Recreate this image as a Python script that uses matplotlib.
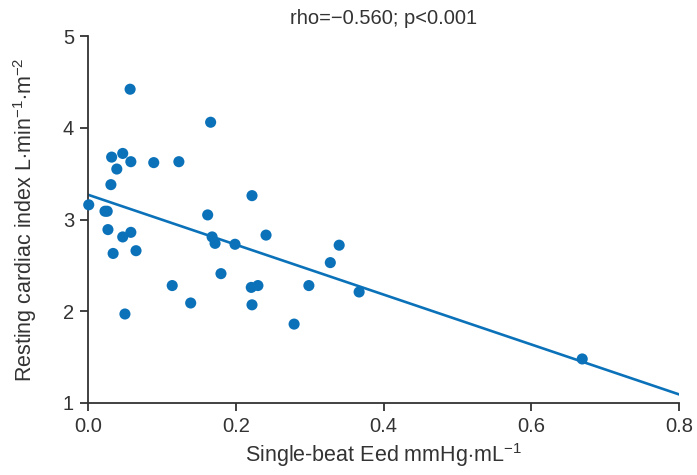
import numpy as np
import matplotlib
matplotlib.use("Agg")
import matplotlib.pyplot as plt

plt.rcParams['font.family'] = ['Liberation Sans', 'DejaVu Sans']
plt.rcParams['mathtext.fontset'] = 'custom'
plt.rcParams['mathtext.rm'] = 'Liberation Sans'
plt.rcParams['mathtext.it'] = 'Liberation Sans:italic'

# single-beat Eed (mmHg/mL) and resting cardiac index (L/min/m2)
eed = [0.001, 0.023, 0.026, 0.027, 0.034, 0.031, 0.032, 0.039, 0.047, 0.058,
       0.057, 0.047, 0.058, 0.050, 0.065, 0.089, 0.123, 0.114, 0.139, 0.166,
       0.162, 0.168, 0.172, 0.180, 0.199, 0.222, 0.221, 0.230, 0.222, 0.241,
       0.279, 0.299, 0.328, 0.340, 0.367, 0.669]
ci = [3.16, 3.09, 3.09, 2.89, 2.63, 3.38, 3.68, 3.55, 3.72, 3.63,
      4.42, 2.81, 2.86, 1.97, 2.66, 3.62, 3.63, 2.28, 2.09, 4.06,
      3.05, 2.81, 2.74, 2.41, 2.73, 3.26, 2.26, 2.28, 2.07, 2.83,
      1.86, 2.28, 2.53, 2.72, 2.21, 1.48]

# fitted line
intercept = 3.27
slope = -2.72

xticks = [0.0, 0.2, 0.4, 0.6, 0.8]
yticks = [1, 2, 3, 4, 5]

blue = '#0b72b9'
dark = '#333333'

fig = plt.figure(figsize=(6.97, 4.75), dpi=100)
ax = fig.add_axes([88 / 697, 1 - 403 / 475, (679 - 88) / 697, (403 - 36) / 475])

xl = np.array([0.0, 0.8])
ax.plot(xl, intercept + slope * xl, color=blue, lw=1.9, zorder=2)
ax.scatter(eed, ci, s=64, color=blue, edgecolors='none', zorder=3, clip_on=False)

ax.set_xlim(0, 0.8)
ax.set_ylim(1, 5)
ax.set_xticks(xticks)
ax.set_xticklabels(['%.1f' % t for t in xticks])
ax.set_yticks(yticks)

for s in ['top', 'right']:
    ax.spines[s].set_visible(False)
for s in ['left', 'bottom']:
    ax.spines[s].set_color(dark)
    ax.spines[s].set_linewidth(1.3)

ax.tick_params(direction='out', length=6, width=1.3, color=dark,
               labelsize=14.5, labelcolor=dark, pad=4)

ax.set_xlabel(r'Single-beat Eed mmHg$\cdot$mL$^{-1}$', fontsize=15.5, color=dark, labelpad=4)
ax.set_ylabel(r'Resting cardiac index L$\cdot$min$^{-1}$$\cdot$m$^{-2}$', fontsize=15.5,
              color=dark, labelpad=17)
ax.set_title('rho=\u22120.560; p<0.001', fontsize=14.5, color=dark, pad=9)

fig.savefig('out.png', dpi=100)
